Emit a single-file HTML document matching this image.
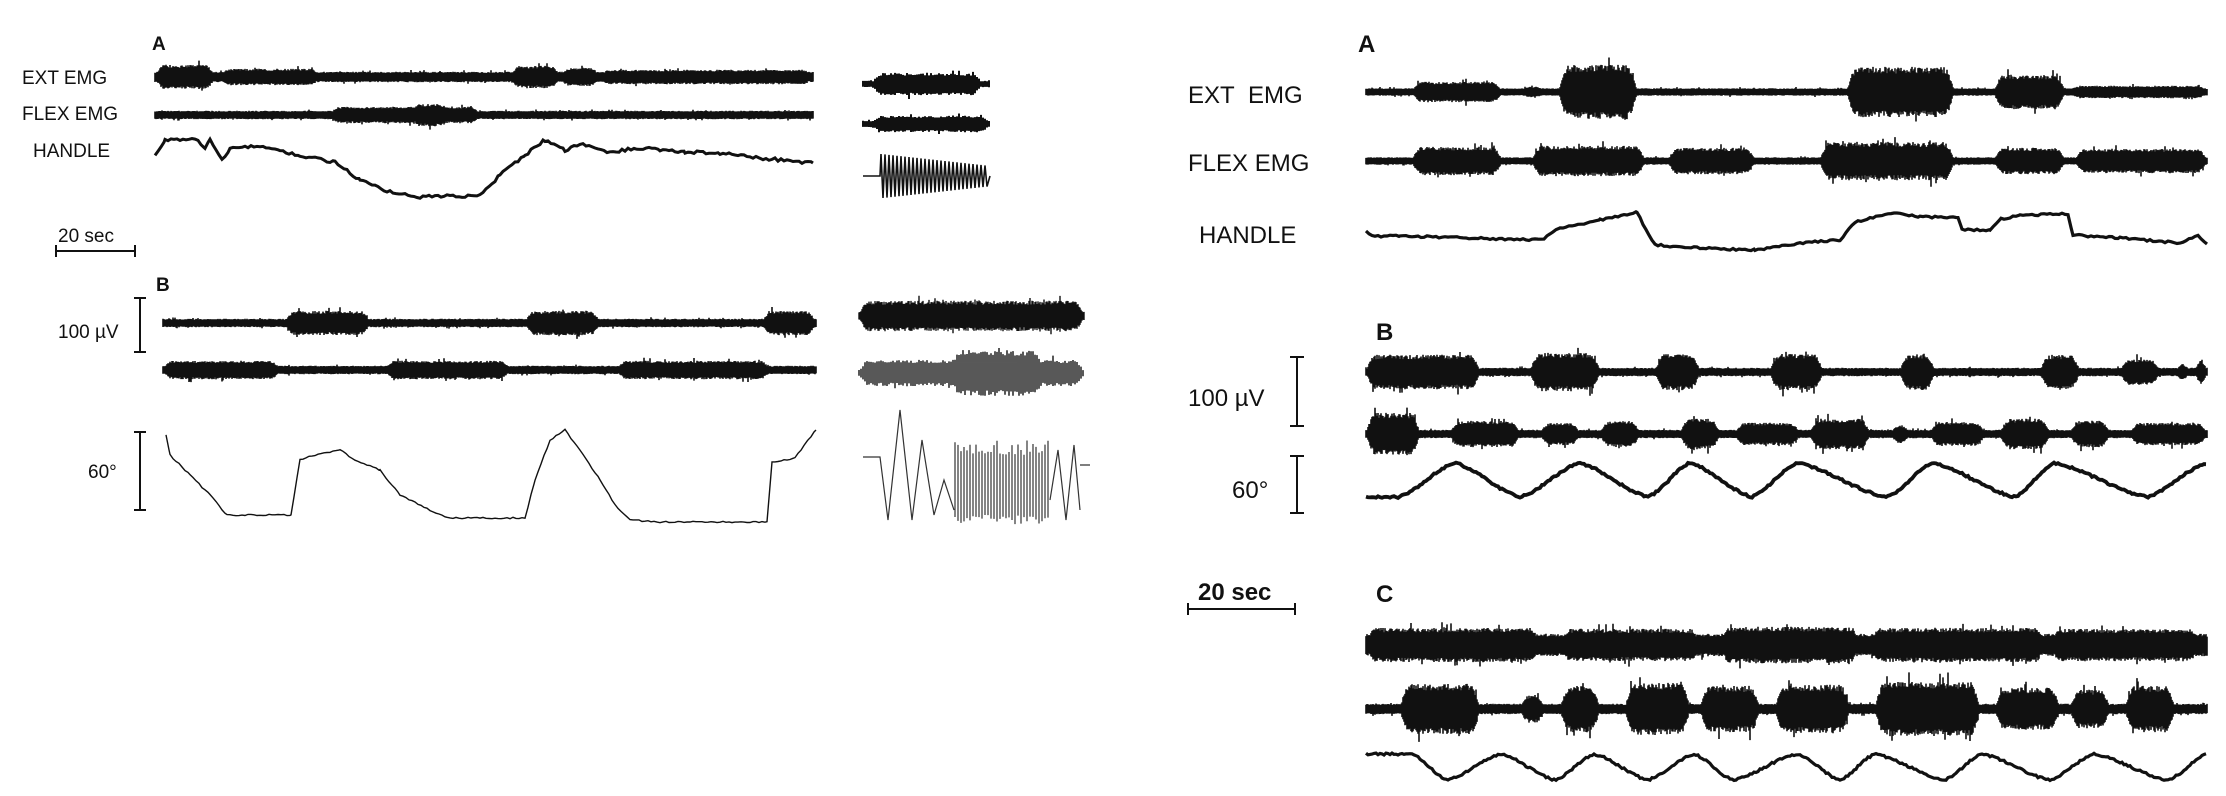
<!DOCTYPE html>
<html><head><meta charset="utf-8"><style>
html,body{margin:0;padding:0;background:#fff;}
svg{display:block}
text{font-family:"Liberation Sans",sans-serif;fill:#111;font-weight:bold}
</style></head><body>
<svg id="s" width="2226" height="796" viewBox="0 0 2226 796" xmlns="http://www.w3.org/2000/svg">
<g>
<text x="152" y="50" font-size="19">A</text>
<text x="22" y="84" font-size="19" style="font-weight:normal">EXT EMG</text>
<text x="22" y="120" font-size="19" style="font-weight:normal">FLEX EMG</text>
<text x="33" y="157" font-size="19" style="font-weight:normal">HANDLE</text>
<text x="58" y="242" font-size="19" style="font-weight:normal">20 sec</text>
<path d="M56 251H135M56 245V257M135 245V257" stroke="#111" stroke-width="2" fill="none"/>
<text x="156" y="291" font-size="19">B</text>
<text x="58" y="338" font-size="19" style="font-weight:normal">100 µV</text>
<path d="M140 298V352M134 298H146M134 352H146" stroke="#111" stroke-width="2" fill="none"/>
<text x="88" y="478" font-size="19" style="font-weight:normal">60°</text>
<path d="M140 432V510M134 432H146M134 510H146" stroke="#111" stroke-width="2" fill="none"/>

<text x="1358" y="52" font-size="24">A</text>
<text x="1188" y="103" font-size="24" style="font-weight:normal">EXT&#160; EMG</text>
<text x="1188" y="171" font-size="24" style="font-weight:normal">FLEX EMG</text>
<text x="1199" y="243" font-size="24" style="font-weight:normal">HANDLE</text>
<text x="1376" y="340" font-size="24">B</text>
<text x="1188" y="406" font-size="24" style="font-weight:normal">100 µV</text>
<path d="M1297 357V426M1290 357H1304M1290 426H1304" stroke="#111" stroke-width="2" fill="none"/>
<text x="1232" y="498" font-size="24" style="font-weight:normal">60°</text>
<path d="M1297 456V513M1290 456H1304M1290 513H1304" stroke="#111" stroke-width="2" fill="none"/>
<text x="1198" y="600" font-size="24">20 sec</text>
<path d="M1188 609H1295M1188 603V615M1295 603V615" stroke="#111" stroke-width="2" fill="none"/>
<text x="1376" y="602" font-size="24">C</text>
</g>
<g id="tr"></g>
</svg>
<script>
var seed=12345;function r(){seed=(seed*16807)%2147483647;return seed/2147483647;}
var g=document.getElementById('tr');var NS="http://www.w3.org/2000/svg";
function add(d,w,c){var p=document.createElementNS(NS,'path');p.setAttribute('d',d);p.setAttribute('stroke',c||'#111');p.setAttribute('stroke-width',w);p.setAttribute('fill','none');g.appendChild(p);}
function sm(x,a,b){var e=10;if(x<a||x>b)return 0;var t=Math.min(1,(x-a)/e,(b-x)/e);return Math.sin(t*Math.PI/2);}
function emg(x0,x1,y,base,bursts,step,w){var d='';step=step||1;for(var x=x0;x<=x1;x+=step){var a=base;for(var i=0;i<bursts.length;i++){var b=bursts[i];a=Math.max(a,b[2]*sm(x,b[0],b[1]));}var u=a*(0.72+0.28*r())+1.2,l=a*(0.72+0.28*r())+1.2;if(r()<0.03)u*=1.35;if(r()<0.03)l*=1.35;d+='M'+x.toFixed(1)+' '+(y-u).toFixed(1)+'V'+(y+l).toFixed(1);}add(d,w||1.6);}
function line(pts,w,noise,step){var d='';for(var i=0;i<pts.length-1;i++){var a=pts[i],b=pts[i+1];for(var x=a[0];x<b[0];x+=step){var t=(x-a[0])/(b[0]-a[0]);var y=a[1]+(b[1]-a[1])*t+(r()-0.5)*noise;d+=(d?'L':'M')+x.toFixed(1)+' '+y.toFixed(1);}}var l=pts[pts.length-1];d+='L'+l[0]+' '+l[1];add(d,w);}
function sine(x0,x1,y,amp,peaks,troughs,w,noise){var all=[];peaks.forEach(function(p){all.push([p,y-amp]);});troughs.forEach(function(p){all.push([p,y+amp]);});all.sort(function(a,b){return a[0]-b[0]});var d='';for(var x=x0;x<=x1;x+=2){var yy=y;for(var i=0;i<all.length-1;i++){if(x>=all[i][0]&&x<=all[i+1][0]){var t=(x-all[i][0])/(all[i+1][0]-all[i][0]);var c=(1-Math.cos(Math.PI*t))/2;c=0.5*c+0.5*t;yy=all[i][1]+(all[i+1][1]-all[i][1])*c;}}if(x<all[0][0])yy=all[0][1];if(x>all[all.length-1][0])yy=all[all.length-1][1];yy+=(r()-0.5)*noise;d+=(d?'L':'M')+x+' '+yy.toFixed(1);}add(d,w);}
// LEFT A
emg(155,813,77,4,[[155,215,11],[220,320,7],[510,560,10],[560,600,8],[600,813,6]],1,1.6);
emg(155,813,115,3,[[330,480,7],[410,450,10]],1,1.6);
line([[155,154],[165,140],[180,140],[195,138],[205,147],[210,140],[222,160],[230,149],[260,146],[280,150],[300,156],[335,162],[360,180],[390,192],[420,197],[450,196],[480,196],[500,175],[525,155],[545,140],[565,150],[580,144],[610,152],[640,148],[660,150],[685,152],[720,153],[760,158],[813,163]],3,3,3);
emg(863,990,84,2,[[872,982,10]],2,2);
emg(863,990,124,2,[[872,990,7]],2,2);
(function(){var d='M863 176H880';for(var x=880;x<985;x+=4){var a=22*(1-(x-880)/200);d+='L'+(x+1)+' '+(176-a)+'L'+(x+3)+' '+(176+a);}d+='L990 176';add(d,1.6);})();
// LEFT B
emg(163,816,323,3,[[285,370,11],[525,600,11],[762,816,11]],1,1.6);
emg(163,816,370,3,[[163,280,8],[385,510,8],[617,770,8]],1,1.6);
line([[166,435],[170,455],[190,475],[210,495],[227,515],[291,515],[300,460],[315,455],[340,450],[355,460],[380,470],[400,495],[430,510],[447,518],[525,518],[535,480],[550,440],[565,430],[580,450],[600,480],[615,505],[630,520],[660,522],[767,522],[772,462],[795,458],[808,440],[816,430]],1.4,1.5,3);
emg(859,1084,316,3,[[859,1084,14]],1,1.4);
emg(859,1084,373,2,[[859,1084,12],[950,1045,22]],2,1.4);
(function(){var d='M863 457H880L888 520L900 410L912 520L922 440L934 515L944 480L954 510';for(var x=955;x<1050;x+=3){d+='M'+x+' '+(440+r()*15)+'V'+(515+r()*10);}d+='M1050 500L1058 450L1066 520L1074 445L1080 510M1080 465H1090';add(d,1.2,'#333');})();
// RIGHT A
emg(1366,2207,92,2.5,[[1412,1502,9],[1520,1545,4],[1559,1637,26],[1847,1954,24],[1994,2065,16],[2070,2207,5]],1,1.6);
emg(1366,2207,161,2.5,[[1412,1502,13],[1532,1645,14],[1668,1755,12],[1820,1954,18],[1994,2065,12],[2075,2207,11]],1,1.6);
line([[1366,232],[1372,236],[1400,236],[1541,240],[1560,228],[1600,220],[1637,212],[1646,230],[1655,245],[1700,248],[1755,250],[1800,243],[1840,240],[1855,222],[1894,213],[1920,217],[1958,217],[1962,230],[1990,230],[2001,219],[2020,215],[2068,214],[2073,235],[2120,238],[2180,243],[2198,236],[2207,244]],3.2,2,3);
// RIGHT B
emg(1366,2207,372,3,[[1366,1480,16],[1530,1600,18],[1655,1700,17],[1770,1823,17],[1900,1935,17],[1965,1975,6],[2040,2080,16],[2120,2160,12],[2175,2190,8],[2195,2207,16]],1,1.6);
emg(1366,2207,434,3,[[1366,1420,20],[1450,1520,12],[1540,1580,10],[1600,1640,12],[1680,1720,14],[1735,1800,10],[1810,1870,14],[1890,1910,8],[1930,1985,11],[2000,2050,14],[2070,2110,12],[2130,2207,10]],1,1.6);
sine(1366,2207,480,17,[1455,1580,1690,1797,1933,2054,2207],[1398,1520,1648,1752,1887,2015,2147],3.8,2);
// RIGHT C
emg(1366,2207,645,10,[[1366,1540,16],[1560,1700,15],[1720,1860,17],[1870,2045,16],[2050,2200,15]],1,1.6);
emg(1366,2207,709,4,[[1400,1480,24],[1520,1545,13],[1560,1600,22],[1625,1690,25],[1700,1760,22],[1775,1850,23],[1875,1980,26],[1995,2060,20],[2070,2110,18],[2125,2175,22]],1,1.6);
sine(1366,2207,767,13,[1412,1501,1594,1694,1797,1875,1982,2094,2207],[1447,1555,1648,1733,1840,1944,2050,2168],3.2,2);
</script>
</body></html>
